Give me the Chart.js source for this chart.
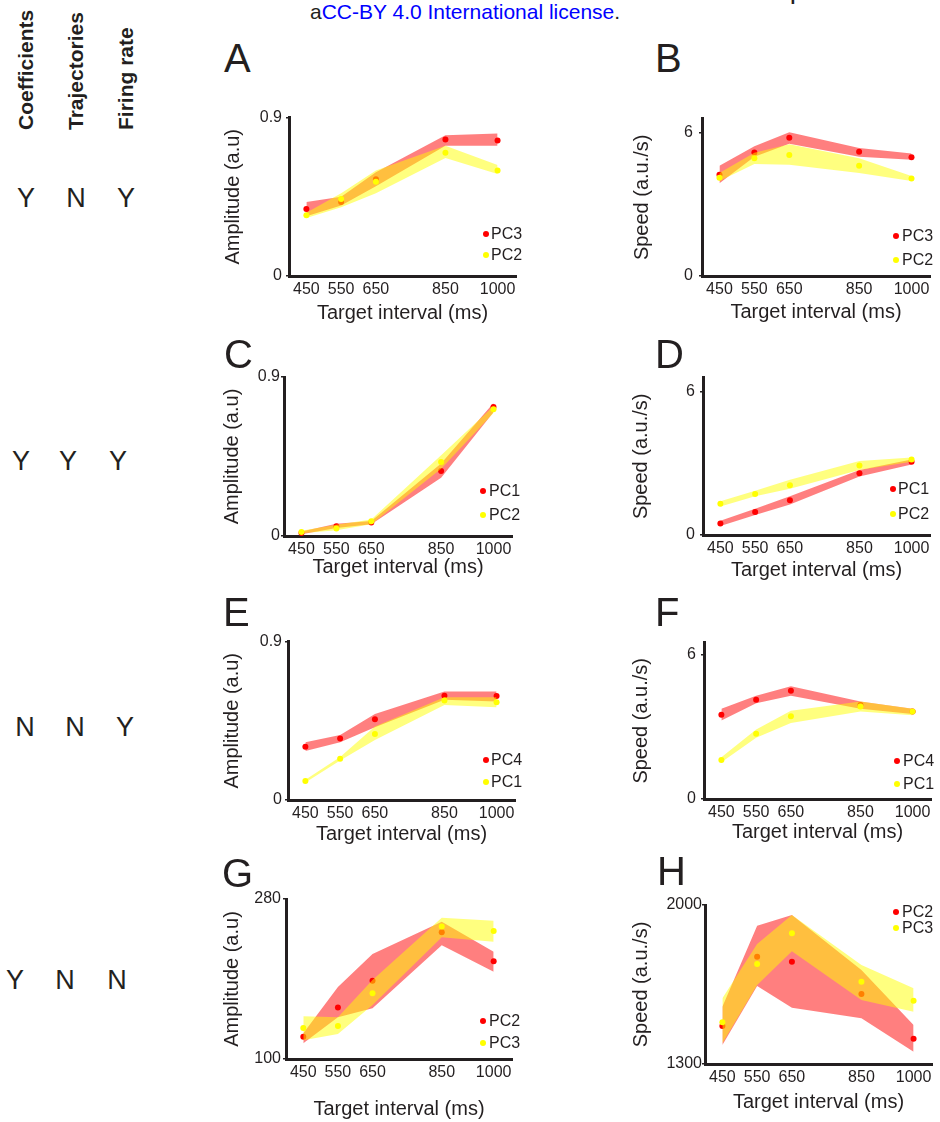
<!DOCTYPE html>
<html>
<head>
<meta charset="utf-8">
<script src="https://cdn.jsdelivr.net/npm/chart.js@4.4.0/dist/chart.umd.min.js"></script>
<style>
  body { margin: 0; background: #fff; width: 940px; height: 1122px; position: relative; overflow: hidden;
         font-family: "Liberation Sans", Arial, sans-serif; color: #231f20; }
  .t { position: absolute; line-height: 1; white-space: nowrap; }
  .col { font-size: 21px; font-weight: bold; transform: rotate(-90deg); transform-origin: 0 0; }
  .yn { font-size: 27px; transform: translateX(-50%); }
  .letter { font-size: 40px; }
  .leg { font-size: 16px; }
  .dot { position: absolute; width: 6px; height: 6px; border-radius: 50%; }
  canvas { position: absolute; }
</style>
</head>
<body>

<div class="t" style="left:310px;top:1px;font-size:21px;">a<span style="color:#0000ff">CC-BY 4.0 International license</span>.</div>
<div class="t" style="left:771px;top:-25px;font-size:28px;">Speed</div>

<div class="t col" style="left:15px;top:130px;">Coefficients</div>
<div class="t col" style="left:65px;top:130px;">Trajectories</div>
<div class="t col" style="left:115px;top:130px;">Firing rate</div>

<div class="t yn" style="left:26px;top:185px;">Y</div>
<div class="t yn" style="left:76px;top:185px;">N</div>
<div class="t yn" style="left:126px;top:185px;">Y</div>

<div class="t yn" style="left:21px;top:448px;">Y</div>
<div class="t yn" style="left:68px;top:448px;">Y</div>
<div class="t yn" style="left:118px;top:448px;">Y</div>

<div class="t yn" style="left:25px;top:714px;">N</div>
<div class="t yn" style="left:75px;top:714px;">N</div>
<div class="t yn" style="left:125px;top:714px;">Y</div>

<div class="t yn" style="left:15px;top:967px;">Y</div>
<div class="t yn" style="left:65px;top:967px;">N</div>
<div class="t yn" style="left:117px;top:967px;">N</div>

<script>
// target intervals (ms) shared by every panel
const intervals = [450, 550, 650, 850, 1000];
const ampTicks = [0, 0.9];
const speedTicks = [0, 6];
const ampTicksG = [100, 280];
const speedTicksH = [1300, 2000];

// A: amplitude, PC3 vs PC2
const aPC3 = [0.38, 0.42, 0.55, 0.775, 0.77];
const aPC3Hi = [0.42, 0.45, 0.59, 0.80, 0.81];
const aPC3Lo = [0.34, 0.40, 0.51, 0.74, 0.74];
const aPC2 = [0.345, 0.437, 0.536, 0.70, 0.60];
const aPC2Hi = [0.36, 0.47, 0.60, 0.74, 0.63];
const aPC2Lo = [0.33, 0.39, 0.47, 0.67, 0.58];

// B: speed, PC3 vs PC2
const bPC3 = [4.25, 5.18, 5.80, 5.21, 4.98];
const bPC3Hi = [4.62, 5.44, 6.03, 5.37, 5.14];
const bPC3Lo = [3.89, 5.00, 5.55, 5.00, 4.87];
const bPC2 = [4.12, 4.94, 5.07, 4.62, 4.09];
const bPC2Hi = [4.32, 5.17, 5.52, 4.94, 4.19];
const bPC2Lo = [3.98, 4.70, 4.66, 4.32, 3.98];

// C: amplitude, PC1 vs PC2
const cPC1 = [0.017, 0.055, 0.076, 0.368, 0.73];
const cPC1Hi = [0.025, 0.07, 0.085, 0.41, 0.753];
const cPC1Lo = [0.01, 0.045, 0.066, 0.33, 0.70];
const cPC2 = [0.023, 0.042, 0.083, 0.419, 0.717];
const cPC2Hi = [0.03, 0.064, 0.094, 0.457, 0.734];
const cPC2Lo = [0.015, 0.032, 0.066, 0.381, 0.696];

// D: speed, PC1 vs PC2
const dPC1 = [0.48, 0.96, 1.46, 2.59, 3.07];
const dPC1Hi = [0.60, 1.10, 1.63, 2.73, 3.17];
const dPC1Lo = [0.38, 0.84, 1.28, 2.45, 2.96];
const dPC2 = [1.31, 1.72, 2.09, 2.91, 3.17];
const dPC2Hi = [1.42, 1.86, 2.32, 3.10, 3.25];
const dPC2Lo = [1.19, 1.63, 1.94, 2.73, 3.07];

// E: amplitude, PC4 vs PC1
const ePC4 = [0.303, 0.349, 0.459, 0.593, 0.591];
const ePC4Hi = [0.328, 0.370, 0.489, 0.616, 0.616];
const ePC4Lo = [0.279, 0.328, 0.413, 0.569, 0.559];
const ePC1 = [0.108, 0.235, 0.375, 0.565, 0.555];
const ePC1Hi = [0.115, 0.245, 0.417, 0.584, 0.584];
const ePC1Lo = [0.100, 0.225, 0.341, 0.540, 0.527];

// F: speed, PC4 vs PC1
const fPC4 = [3.50, 4.13, 4.50, 3.91, 3.64];
const fPC4Hi = [3.75, 4.29, 4.69, 4.05, 3.75];
const fPC4Lo = [3.26, 3.98, 4.29, 3.75, 3.53];
const fPC1 = [1.62, 2.71, 3.44, 3.84, 3.64];
const fPC1Hi = [1.73, 2.89, 3.67, 4.05, 3.75];
const fPC1Lo = [1.53, 2.55, 3.16, 3.64, 3.48];

// G: amplitude, PC2 vs PC3
const gPC2 = [125, 158, 188, 242.5, 210];
const gPC2Hi = [129, 181, 218, 254.5, 220.7];
const gPC2Lo = [117.7, 147, 157, 228, 198.2];
const gPC3 = [135, 137, 174, 249, 244];
const gPC3Hi = [148, 147, 189, 259, 255.6];
const gPC3Lo = [121, 128, 160.7, 237, 232];

// H: speed, PC2 vs PC3
const hPC2 = [1467, 1772, 1750, 1608, 1411];
const hPC2Hi = [1552, 1909, 1956, 1714, 1472];
const hPC2Lo = [1384, 1643, 1548, 1501, 1354];
const hPC3 = [1484, 1740, 1876, 1662, 1579];
const hPC3Hi = [1589, 1828, 1956, 1736, 1633];
const hPC3Lo = [1391, 1648, 1796, 1582, 1530];

const INK = '#231f20';
const RED = 'rgb(255,0,0)';
const RED_BAND = 'rgba(255,0,0,0.5)';
const YEL = 'rgb(255,255,0)';
const YEL_BAND = 'rgba(255,255,0,0.5)';

Chart.defaults.font.family = '"Liberation Sans", Arial, sans-serif';
Chart.defaults.color = INK;

// area = [left, right, top, bottom] of the plot box on the page
const panels = [
  { letter: 'A', lx: 224, ly: 38, area: [289, 516, 116, 276], yw: 68, xh: 49, ypad: 4,
    ymin: 0, ymax: 0.9, yticks: ampTicks, ytitle: 'Amplitude (a.u)',
    red: [aPC3, aPC3Hi, aPC3Lo], yel: [aPC2, aPC2Hi, aPC2Lo], names: ['PC3', 'PC2'], leg: [486, 234, 255, 491] },
  { letter: 'B', lx: 655, ly: 38, area: [702, 930, 115, 276], yw: 72, xh: 48, ypad: 6,
    ymin: 0, ymax: 6.6, yticks: speedTicks, ytitle: 'Speed (a.u./s)',
    red: [bPC3, bPC3Hi, bPC3Lo], yel: [bPC2, bPC2Hi, bPC2Lo], names: ['PC3', 'PC2'], leg: [896, 236, 260, 902] },
  { letter: 'C', lx: 224, ly: 334, area: [284, 512, 377, 536], yw: 64, xh: 43, ypad: 1,
    ymin: 0, ymax: 0.9, yticks: ampTicks, ytitle: 'Amplitude (a.u)',
    red: [cPC1, cPC1Hi, cPC1Lo], yel: [cPC2, cPC2Hi, cPC2Lo], names: ['PC1', 'PC2'], leg: [483, 491, 515, 489] },
  { letter: 'D', lx: 655, ly: 334, area: [703, 930, 375, 535], yw: 74, xh: 47, ypad: 5,
    ymin: 0, ymax: 6.6, yticks: speedTicks, ytitle: 'Speed (a.u./s)',
    red: [dPC1, dPC1Hi, dPC1Lo], yel: [dPC2, dPC2Hi, dPC2Lo], names: ['PC1', 'PC2'], leg: [893, 489, 514, 898] },
  { letter: 'E', lx: 223, ly: 592, area: [288, 515, 641, 800], yw: 68, xh: 46, ypad: 3,
    ymin: 0, ymax: 0.9, yticks: ampTicks, ytitle: 'Amplitude (a.u)',
    red: [ePC4, ePC4Hi, ePC4Lo], yel: [ePC1, ePC1Hi, ePC1Lo], names: ['PC4', 'PC1'], leg: [486, 760, 782, 491] },
  { letter: 'F', lx: 655, ly: 592, area: [704, 931, 640, 799], yw: 75, xh: 45, ypad: 5,
    ymin: 0, ymax: 6.5, yticks: speedTicks, ytitle: 'Speed (a.u./s)',
    red: [fPC4, fPC4Hi, fPC4Lo], yel: [fPC1, fPC1Hi, fPC1Lo], names: ['PC4', 'PC1'], leg: [897, 761, 784, 903] },
  { letter: 'G', lx: 222, ly: 853, area: [286, 512, 899, 1059], yw: 66, xh: 62, ypad: 2,
    ymin: 100, ymax: 280, yticks: ampTicksG, ytitle: 'Amplitude (a.u)',
    red: [gPC2, gPC2Hi, gPC2Lo], yel: [gPC3, gPC3Hi, gPC3Lo], names: ['PC2', 'PC3'], leg: [483, 1021, 1043, 489] },
  { letter: 'H', lx: 657, ly: 851, area: [705, 932, 905, 1064], yw: 76, xh: 50, ypad: 0,
    ymin: 1300, ymax: 2000, yticks: speedTicksH, ytitle: 'Speed (a.u./s)',
    red: [hPC2, hPC2Hi, hPC2Lo], yel: [hPC3, hPC3Hi, hPC3Lo], names: ['PC2', 'PC3'], leg: [896, 912, 928, 902] }
];

function pts(ys) {
  return intervals.map((x, i) => ({ x: x, y: ys[i] }));
}

function bandSets(hi, lo, color) {
  return [
    { data: pts(hi), borderWidth: 0, borderColor: 'transparent', pointRadius: 0, fill: '+1', backgroundColor: color },
    { data: pts(lo), borderWidth: 0, borderColor: 'transparent', pointRadius: 0, fill: false }
  ];
}

function dotSet(ys, color) {
  return { data: pts(ys), showLine: false, pointRadius: 3, pointBorderWidth: 0,
           pointBackgroundColor: color, backgroundColor: color, borderColor: color };
}

function addText(cls, txt, left, top) {
  const d = document.createElement('div');
  d.className = 't ' + cls;
  d.textContent = txt;
  d.style.left = left + 'px';
  d.style.top = top + 'px';
  document.body.appendChild(d);
}

function addDot(cx, cy, color) {
  const d = document.createElement('div');
  d.className = 'dot';
  d.style.left = (cx - 3) + 'px';
  d.style.top = (cy - 3) + 'px';
  d.style.background = color;
  document.body.appendChild(d);
}

function drawPanel(p) {
  const [l, r, t, b] = p.area;
  const left = l - p.yw, top = t - 12;
  const w = r + 6 - left, h = b + p.xh - top;

  const cv = document.createElement('canvas');
  cv.width = w; cv.height = h;
  cv.style.left = left + 'px';
  cv.style.top = top + 'px';
  document.body.appendChild(cv);

  // first dataset is drawn last: red band, red dots, yellow band, yellow dots
  const datasets = [
    dotSet(p.yel[0], YEL),
    ...bandSets(p.yel[1], p.yel[2], YEL_BAND),
    dotSet(p.red[0], RED),
    ...bandSets(p.red[1], p.red[2], RED_BAND)
  ];

  new Chart(cv.getContext('2d'), {
    type: 'line',
    data: { datasets: datasets },
    options: {
      responsive: false,
      animation: false,
      devicePixelRatio: 1,
      events: [],
      layout: { padding: { top: 12, right: 6, bottom: 0, left: 0 } },
      elements: { line: { tension: 0 } },
      plugins: { legend: { display: false }, tooltip: { enabled: false } },
      scales: {
        x: {
          type: 'linear', min: 400, max: 1053,
          afterBuildTicks: s => { s.ticks = intervals.map(v => ({ value: v })); },
          afterFit: s => { s.height = p.xh; },
          grid: { display: false, drawTicks: false },
          border: { display: true, color: INK, width: 3 },
          ticks: { autoSkip: false, maxRotation: 0, padding: 4, font: { size: 16 }, color: INK,
                   callback: v => String(v) },
          title: { display: true, text: 'Target interval (ms)', font: { size: 20 }, color: INK, padding: 0 }
        },
        y: {
          min: p.ymin, max: p.ymax,
          afterBuildTicks: s => { s.ticks = p.yticks.map(v => ({ value: v })); },
          afterFit: s => { s.width = p.yw; },
          grid: { display: true, drawOnChartArea: false, drawTicks: true, tickLength: 3, color: INK, lineWidth: 1.5 },
          border: { display: true, color: INK, width: 3 },
          ticks: { padding: p.ypad, font: { size: 16 }, color: INK, callback: v => String(v) },
          title: { display: true, text: p.ytitle, font: { size: 20 }, color: INK, padding: 0 }
        }
      }
    }
  });

  addText('letter', p.letter, p.lx, p.ly);

  const [dx, y1, y2, tx] = p.leg;
  addDot(dx, y1, RED);
  addDot(dx, y2, YEL);
  addText('leg', p.names[0], tx, y1 - 8);
  addText('leg', p.names[1], tx, y2 - 8);
}

panels.forEach(drawPanel);
</script>
</body>
</html>
